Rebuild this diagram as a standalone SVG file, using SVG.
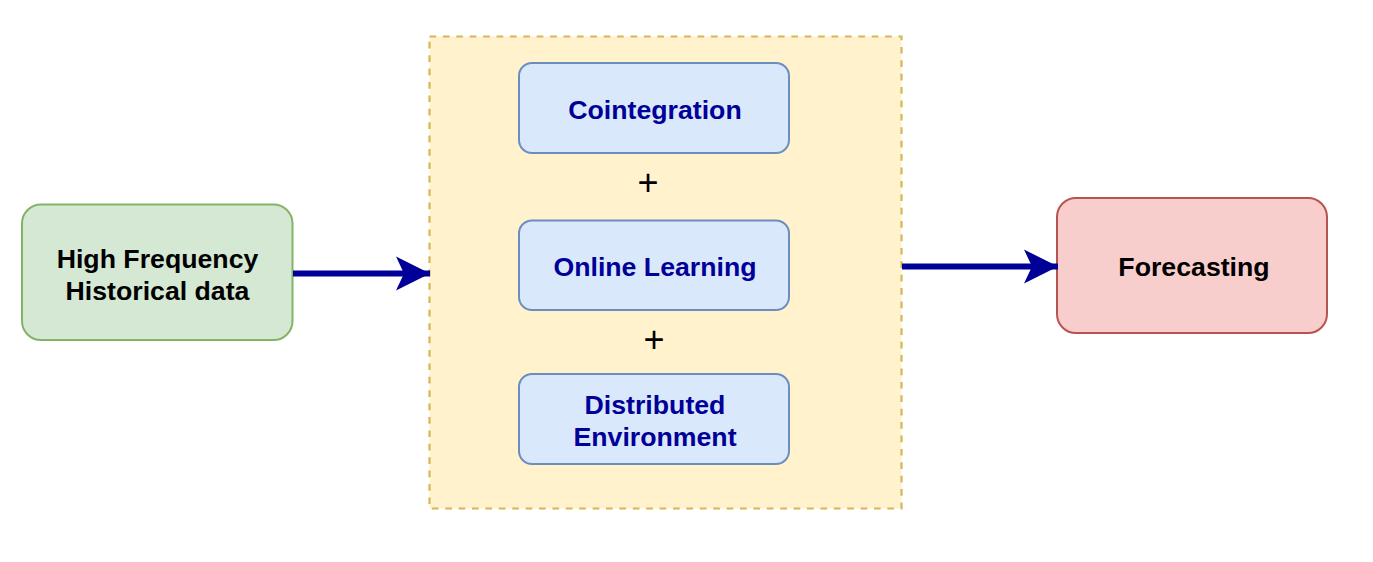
<svg xmlns="http://www.w3.org/2000/svg" width="1373" height="562" viewBox="0 0 1373 562">
<style>
.lbl{font-family:"Liberation Sans",Arial,sans-serif;font-size:26.7px;font-weight:bold;text-anchor:middle}
.blue rect{fill:#dae8fc;stroke:#6c8ebf;stroke-width:2}
.blue text{fill:#000099}
.plus{font-family:"Liberation Sans",Arial,sans-serif;font-size:36px;text-anchor:middle;fill:#000}
.conn{stroke:#000099;stroke-width:6;fill:none}
</style>
<defs>
<marker id="ah" markerUnits="userSpaceOnUse" markerWidth="40" markerHeight="40" viewBox="0 0 40 40" refX="34" refY="20" orient="auto">
<path d="M0,3 L34,20 L0,37 L8,20 Z" fill="#000099"/>
</marker>
</defs>
<rect width="1373" height="562" fill="#fff"/>
<g id="container">
<rect x="429.5" y="36.5" width="472" height="472" fill="#fff2cc" stroke="#d6b656" stroke-width="2.2" stroke-dasharray="6.7 6.7"/>
</g>
<g id="input">
<rect x="22" y="204.5" width="270.5" height="135.5" rx="19" fill="#d5e8d4" stroke="#82b366" stroke-width="2"/>
<text class="lbl" x="157.5" y="267.5">High Frequency</text>
<text class="lbl" x="157.5" y="299.5">Historical data</text>
</g>
<g id="cointegration" class="blue">
<rect x="519" y="63" width="270" height="90" rx="13"/>
<text class="lbl" x="655" y="118.5">Cointegration</text>
</g>
<g id="online" class="blue">
<rect x="519" y="220.5" width="270" height="89.5" rx="13"/>
<text class="lbl" x="655" y="276">Online Learning</text>
</g>
<g id="distributed" class="blue">
<rect x="519" y="374" width="270" height="90" rx="13"/>
<text class="lbl" x="655" y="414">Distributed</text>
<text class="lbl" x="655" y="446">Environment</text>
</g>
<g id="plus-signs">
<text class="plus" x="648" y="195">+</text>
<text class="plus" x="654" y="352">+</text>
</g>
<g id="forecasting">
<rect x="1057" y="198" width="270" height="135" rx="19" fill="#f8cecc" stroke="#b85450" stroke-width="2"/>
<text class="lbl" x="1194" y="276">Forecasting</text>
</g>
<g id="connectors">
<line class="conn" x1="293" y1="273.5" x2="430" y2="273.5" marker-end="url(#ah)"/>
<line class="conn" x1="902" y1="266.5" x2="1058" y2="266.5" marker-end="url(#ah)"/>
</g>
</svg>
